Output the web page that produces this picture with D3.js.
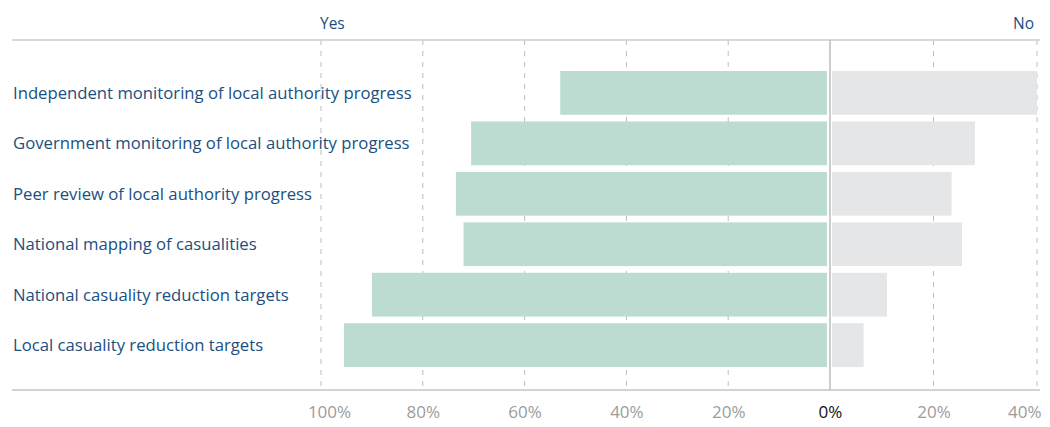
<!DOCTYPE html>
<html>
<head>
<meta charset="utf-8">
<script src="https://cdn.jsdelivr.net/npm/d3@7"></script>
<style>
  body { margin: 0; background: #fff; }
  text { font-family: "Open Sans", "Noto Sans", sans-serif; }
</style>
</head>
<body>
<svg id="chart"></svg>
<script>
// survey answers, percent of respondents
var categories = [
    "Independent monitoring of local authority progress",
    "Government monitoring of local authority progress",
    "Peer review of local authority progress",
    "National mapping of casualities",
    "National casuality reduction targets",
    "Local casuality reduction targets"
];
var yes_values = [53, 70.5, 73.5, 72, 90, 95.5];
var no_values = [40, 28, 23.5, 25.5, 11, 6.5];
var tick_values = [-100, -80, -60, -40, -20, 0, 20, 40];

var width = 1050,
    height = 427;

var svg = d3.select('#chart')
            .attr("width", width)
            .attr("height", height);

// yes runs to the left of zero, no to the right (left side slightly narrower per %)
var x = d3.scaleLinear()
          .domain([-100, 0, 40])
          .range([321, 830, 1037]);

var y = d3.scaleBand()
          .domain(categories)
          .range([71, 367])
          .paddingInner(0.133)
          .paddingOuter(0);

var top_y = 40, bottom_y = 390;

// DASHED GRID LINES
svg.selectAll(".grid")
    .data(tick_values.filter(function(d){ return d != 0; }))
    .enter()
    .append("line")
    .attr("class", "grid")
    .attr("x1", function(d){ return x(d); })
    .attr("x2", function(d){ return x(d); })
    .attr("y1", top_y)
    .attr("y2", bottom_y)
    .attr("stroke", "#bdbdbd")
    .attr("stroke-width", 1)
    .attr("stroke-dasharray", "5,6");

// TOP AND BOTTOM RULES
svg.append("line")
    .attr("x1", 12).attr("x2", 1040)
    .attr("y1", top_y).attr("y2", top_y)
    .attr("stroke", "#cccccc").attr("stroke-width", 1.5);

svg.append("line")
    .attr("x1", 12).attr("x2", 1040)
    .attr("y1", bottom_y).attr("y2", bottom_y)
    .attr("stroke", "#c4c4c4").attr("stroke-width", 1.5);

// YES BARS
svg.selectAll(".yes")
    .data(yes_values)
    .enter()
    .append("rect")
    .attr("class", "yes")
    .attr("x", function(d){ return x(-d); })
    .attr("y", function(d, i){ return y(categories[i]); })
    .attr("width", function(d){ return x(0) - 3 - x(-d); })
    .attr("height", y.bandwidth())
    .attr("fill", "#bcdbd1");

// NO BARS
svg.selectAll(".no")
    .data(no_values)
    .enter()
    .append("rect")
    .attr("class", "no")
    .attr("x", x(0) + 2)
    .attr("y", function(d, i){ return y(categories[i]); })
    .attr("width", function(d){ return x(d) - x(0) - 2; })
    .attr("height", y.bandwidth())
    .attr("fill", "#e5e6e8");

// ZERO LINE
svg.append("line")
    .attr("x1", x(0)).attr("x2", x(0))
    .attr("y1", top_y).attr("y2", bottom_y)
    .attr("stroke", "#bdbdbd").attr("stroke-width", 1.5);

// CATEGORY LABELS
svg.selectAll(".label")
    .data(categories)
    .enter()
    .append("text")
    .attr("class", "label")
    .attr("x", 13)
    .attr("y", function(d){ return y(d) + y.bandwidth() / 2; })
    .attr("dy", "0.36em")
    .attr("fill", "#1a4f80")
    .style("font-size", "16.7px")
    .text(function(d){ return d; });

// BOTTOM AXIS LABELS
var axis = d3.axisBottom(x)
    .tickValues(tick_values)
    .tickSize(0)
    .tickPadding(0)
    .tickFormat(function(d){ return Math.abs(d) + "%"; });

var g = svg.append("g")
    .attr("transform", "translate(0," + 406 + ")")
    .call(axis);

g.select(".domain").remove();
g.selectAll("text")
    .style("font-family", "'Open Sans', 'Noto Sans', sans-serif")
    .style("font-size", "17px")
    .attr("fill", function(d){ return d == 0 ? "#111111" : "#9c9c9c"; });

// end labels pulled inside the frame
g.selectAll(".tick text")
    .filter(function(d){ return d == -100; })
    .attr("dx", 8);
g.selectAll(".tick text")
    .filter(function(d){ return d == 40; })
    .attr("text-anchor", "end")
    .attr("dx", 4);

// YES / NO HEADERS
svg.append("text")
    .attr("x", x(-100) - 1)
    .attr("y", 29)
    .attr("fill", "#1a4f80")
    .style("font-size", "15.5px")
    .text("Yes");

svg.append("text")
    .attr("x", 1034)
    .attr("y", 29)
    .attr("text-anchor", "end")
    .attr("fill", "#1a4f80")
    .style("font-size", "15.5px")
    .text("No");
</script>
</body>
</html>
